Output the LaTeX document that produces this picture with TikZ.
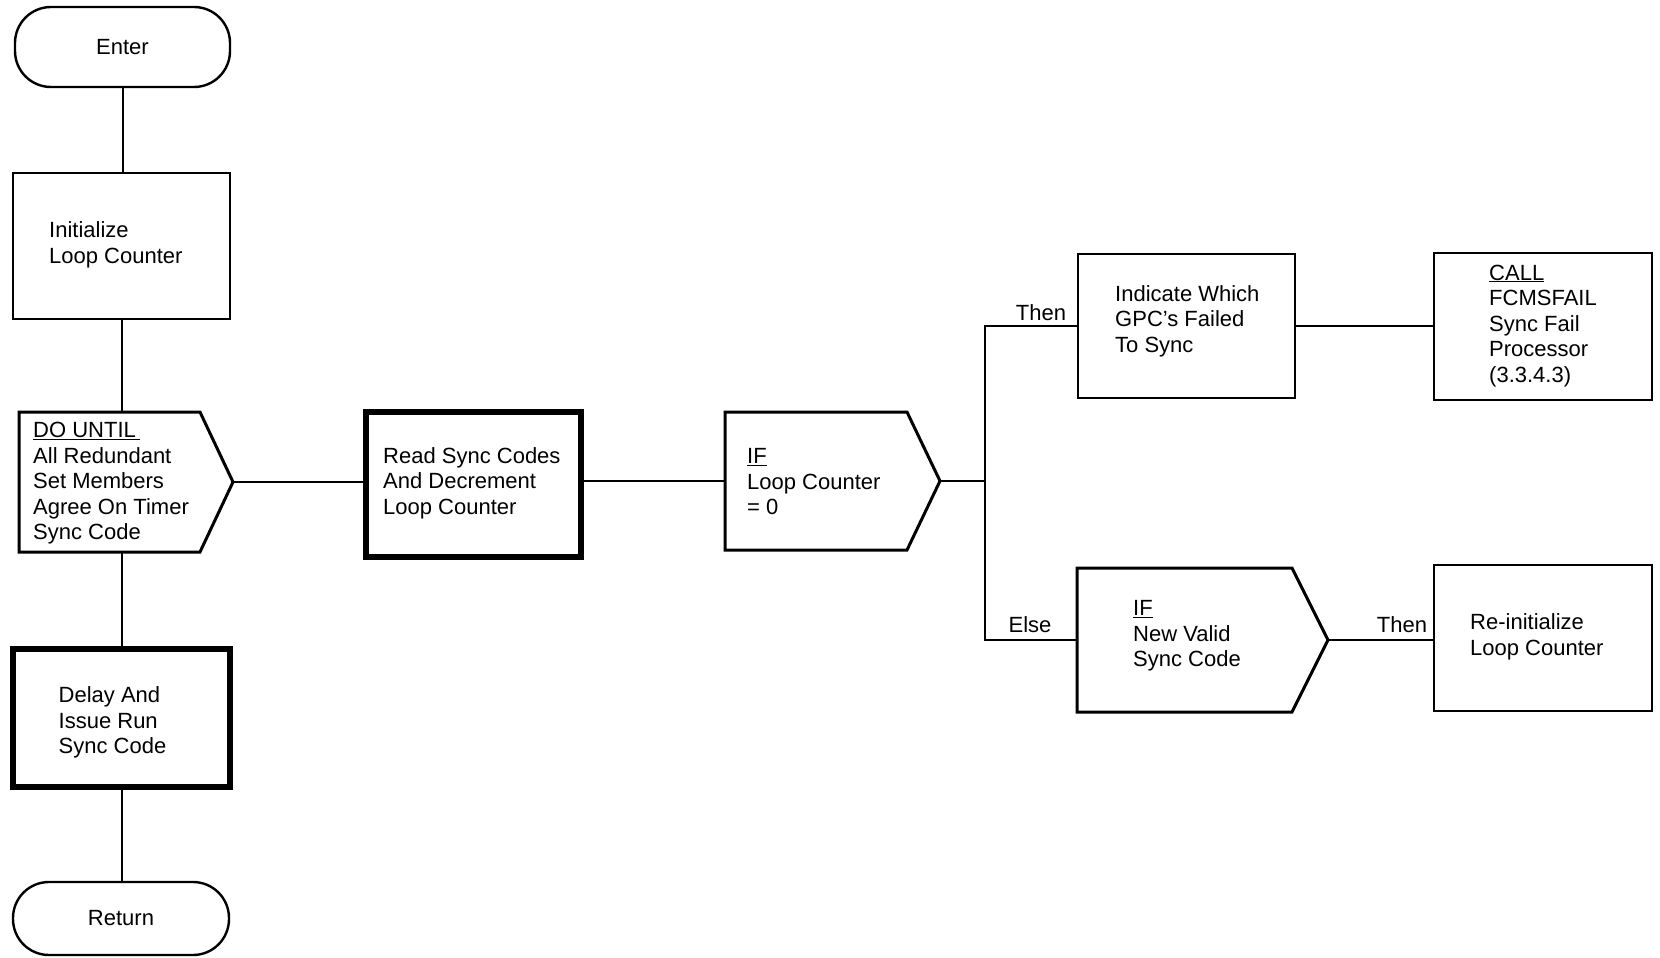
\documentclass[tikz,border=0pt]{standalone}
\usepackage{fontspec}
\setmainfont{Liberation Sans}
\newcommand\dgfont{\fontsize{22}{25.5}\selectfont}
\begin{document}
\begin{tikzpicture}[x=1pt,y=-1pt,
  box/.style={draw, line width=2.4pt, inner sep=0pt, outer sep=0pt},
  thickbox/.style={draw, line width=6pt, inner sep=0pt, outer sep=0pt},
  term/.style={draw, line width=2.4pt, rounded corners=36pt, inner sep=0pt, outer sep=0pt, font=\dgfont},
  pent/.style={inner sep=0pt, outer sep=0pt},
  pentline/.style={line width=3pt, line join=miter},
  txt/.style={align=left, anchor=west, inner sep=0pt, font=\dgfont},
  conn/.style={line width=2pt},
  lbl/.style={anchor=base, inner sep=0pt, font=\dgfont}]
\fill[white] (0,0) rectangle (1660,958);
\useasboundingbox (0,0) rectangle (1660,958);

% left column
\node[term, minimum width=215pt, minimum height=80pt] (enter) at (122.5,47) {Enter};
\node[box, minimum width=217pt, minimum height=146pt] (init) at (121.5,246) {};
\node[pent, minimum width=214pt, minimum height=140pt] (du) at (126,482) {};
\draw[pentline] (du.north west) -- ([xshift=-33pt]du.north east) -- (du.east) -- ([xshift=-33pt]du.south east) -- (du.south west) -- cycle;
\node[thickbox, minimum width=217pt, minimum height=138pt] (delay) at (121.5,718) {};
\node[term, minimum width=216pt, minimum height=73pt] (ret) at (121,918.5) {Return};

% middle
\node[thickbox, minimum width=215pt, minimum height=145pt] (read) at (473,484.5) {};
\node[pent, minimum width=215pt, minimum height=138pt] (if1) at (832.5,481) {};
\draw[pentline] (if1.north west) -- ([xshift=-33pt]if1.north east) -- (if1.east) -- ([xshift=-33pt]if1.south east) -- (if1.south west) -- cycle;
\coordinate (j) at (985,481);

% right
\node[box, minimum width=217pt, minimum height=144pt] (ind) at (1186.5,326) {};
\node[box, minimum width=218pt, minimum height=147pt] (call) at (1543,326.5) {};
\node[pent, minimum width=251pt, minimum height=144pt] (if2) at (1202.5,640) {};
\draw[pentline] (if2.north west) -- ([xshift=-36pt]if2.north east) -- (if2.east) -- ([xshift=-36pt]if2.south east) -- (if2.south west) -- cycle;
\node[box, minimum width=218pt, minimum height=146pt] (reinit) at (1543,638) {};

% texts
\node[txt] (tinit) at (49,245) {Initialize\\Loop Counter};
\node[txt] (tdu) at (33,483.5) {\underline{DO UNTIL\,}\\All Redundant\\Set Members\\Agree On Timer\\Sync Code};
\node[txt] (tdelay) at (58.5,722.5) {Delay And\\Issue Run\\Sync Code};
\node[txt] (tread) at (383,483) {Read Sync Codes\\And Decrement\\Loop Counter};
\node[txt] (tif1) at (747,482) {\underline{IF}\\Loop Counter\\= 0};
\node[txt] (tind) at (1115,321) {Indicate Which\\GPC’s Failed\\To Sync};
\node[txt] (tcall) at (1489,325.6) {\underline{CALL}\\FCMSFAIL\\Sync Fail\\Processor\\(3.3.4.3)};
\node[txt] (tif2) at (1133,636) {\underline{IF}\\New Valid\\Sync Code};
\node[txt] (treinit) at (1470,637) {Re-initialize\\Loop Counter};

% connectors
\draw[conn] (enter.south) -- (enter.south |- init.north);
\draw[conn] (init.south) -- (init.south |- du.north);
\draw[conn] (init.south |- du.south) -- (init.south |- delay.north);
\draw[conn] (delay.south) -- (delay.south |- ret.north);
\draw[conn] (du.east) -- (du.east -| read.west);
\draw[conn] (if1.west -| read.east) -- (if1.west);
\draw[conn] (if1.east) -- (j);
\draw[conn] (ind.west) -| (j) |- (if2.west);
\draw[conn] (ind.east) -- (ind.east -| call.west);
\draw[conn] (if2.east) -- (if2.east -| reinit.west);

% branch labels
\node[lbl] (lthen1) at (1041,320) {Then};
\node[lbl] (lelse) at (1030,632) {Else};
\node[lbl] (lthen2) at (1402,632) {Then};
\end{tikzpicture}
\end{document}
